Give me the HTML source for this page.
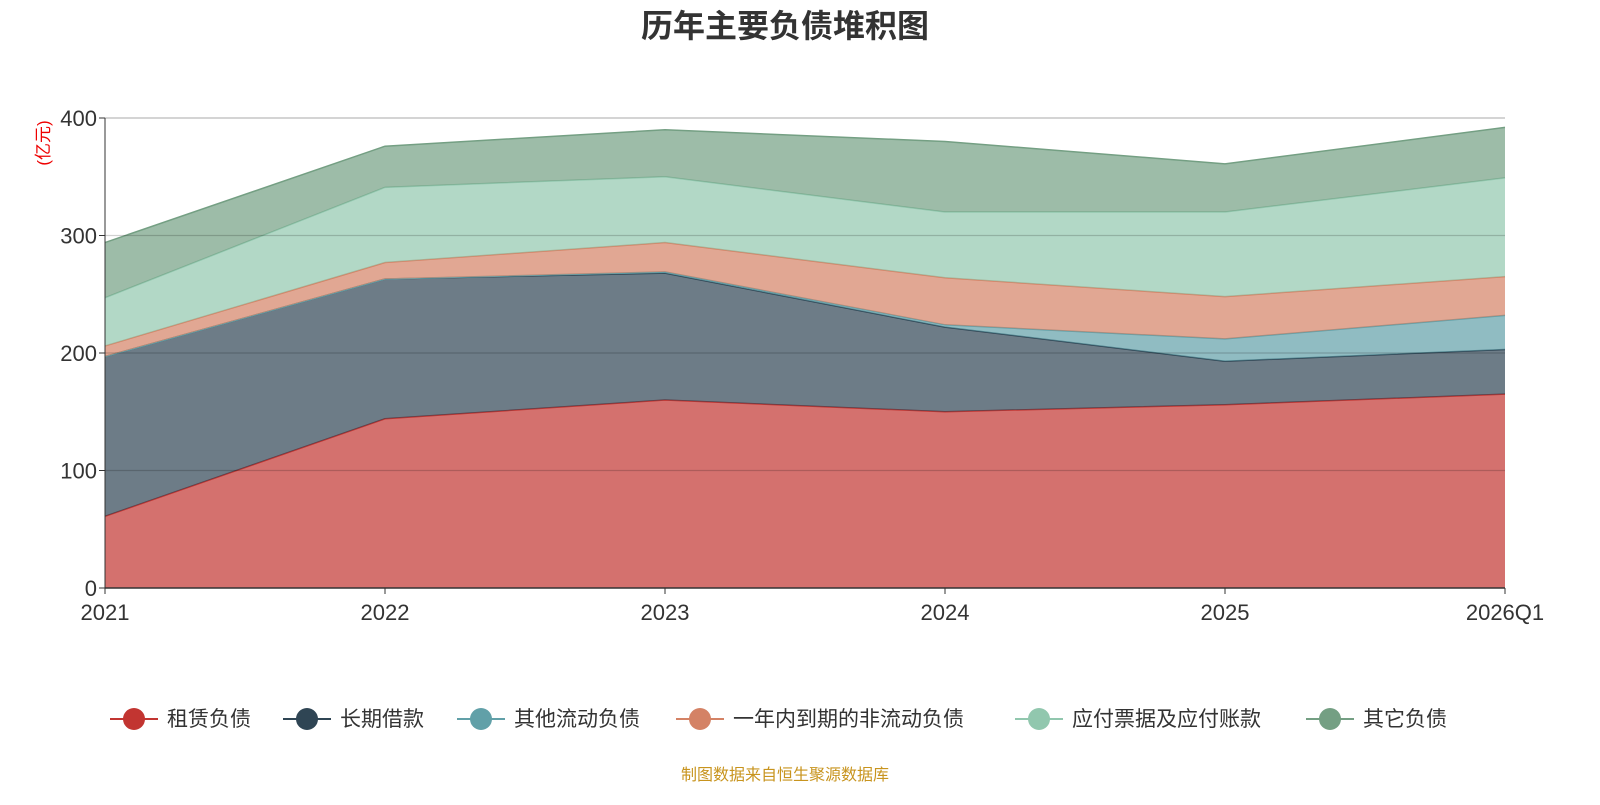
<!DOCTYPE html>
<html><head><meta charset="utf-8"><style>
body{margin:0;background:#fff;font-family:"Liberation Sans","Noto Sans CJK SC",sans-serif;}
</style></head><body>
<svg id="chart" width="1600" height="800" xmlns="http://www.w3.org/2000/svg" style="font-family:'Liberation Sans','Noto Sans CJK SC',sans-serif">
<text x="785" y="37" text-anchor="middle" font-size="32" font-weight="bold" fill="#333">历年主要负债堆积图</text>
<text transform="translate(49,143) rotate(-90)" text-anchor="middle" font-size="17" fill="#e00">(亿元)</text>
<g id="areas"></g><g id="grid"></g><g id="axes"></g><g id="legend"></g>
<text x="785" y="780" text-anchor="middle" font-size="16" fill="#c8941e">制图数据来自恒生聚源数据库</text>
</svg>
<script>
const categories=["2021","2022","2023","2024","2025","2026Q1"];
const seriesNames=["租赁负债","长期借款","其他流动负债","一年内到期的非流动负债","应付票据及应付账款","其它负债"];
const lease=[61,144,160,150,156,165];
const longLoan=[136,119,108,72,37,38];
const otherCurrent=[0,0,1,2,19,29];
const dueWithinYear=[9,14,25,40,36,33];
const payables=[41,64,56,56,72,84];
const otherLiab=[47,35,40,60,41,43];
const yTicks=[0,100,200,300,400];
const series=[lease,longLoan,otherCurrent,dueWithinYear,payables,otherLiab];
const colors=["#c23531","#2f4554","#61a0a8","#d48265","#91c7ae","#749f83"];
const ns="http://www.w3.org/2000/svg";
const X0=105,X1=1505,Y0=588,Y1=118,YMAX=400;
const xs=i=>X0+(X1-X0)*i/(categories.length-1);
const ys=v=>Y0-(Y0-Y1)*v/YMAX;
function mk(t,a,p){const e=document.createElementNS(ns,t);for(const k in a)e.setAttribute(k,a[k]);p.appendChild(e);return e;}
const areas=document.getElementById('areas');
let base=categories.map(()=>0);
series.forEach((s,si)=>{
  const top=base.map((b,i)=>b+s[i]);
  let d="M"+categories.map((c,i)=>xs(i)+","+ys(top[i])).join("L");
  for(let i=categories.length-1;i>=0;i--)d+="L"+xs(i)+","+ys(base[i]);
  const p=mk('path',{d:d+"Z",fill:colors[si],'fill-opacity':0.7,stroke:'none'},areas);
  
  
  const l=mk('polyline',{points:categories.map((c,i)=>xs(i)+","+ys(top[i])).join(" "),fill:'none',stroke:colors[si],'stroke-width':1.5},areas);
  
  
  base=top;
});
const grid=document.getElementById('grid'),axes=document.getElementById('axes');
yTicks.forEach(t=>{
  if(t>0){const g=mk('line',{x1:X0,x2:X1,y1:ys(t),y2:ys(t),stroke:t==YMAX?'#bbb':'rgba(0,0,0,0.18)','stroke-width':1.3},grid);
  
  }
  const tk=mk('line',{x1:X0-6,x2:X0,y1:ys(t),y2:ys(t),stroke:'#333'},axes);
  
  
  const tx=mk('text',{x:X0-8,y:ys(t)+8,'text-anchor':'end','font-size':22,fill:'#333'},axes);
  tx.textContent=t;
  
  
});
const ya=mk('line',{x1:X0,x2:X0,y1:Y1,y2:Y0,stroke:'#333'},axes);


const xa=mk('line',{x1:X0,x2:X1,y1:Y0,y2:Y0,stroke:'#333','stroke-width':1.5},axes);


categories.forEach((c,i)=>{
  const tk=mk('line',{x1:xs(i),x2:xs(i),y1:Y0,y2:Y0+6,stroke:'#333'},axes);
  
  
  const tx=mk('text',{x:xs(i),y:620,'text-anchor':'middle','font-size':22,fill:'#333'},axes);
  tx.textContent=c;
  
  
});
const legend=document.getElementById('legend');
const lx=[134,307,481,700,1039,1330];
seriesNames.forEach((n,i)=>{
  const g=mk('g',{},legend);
  
  
  mk('line',{x1:lx[i]-24,x2:lx[i]+24,y1:719,y2:719,stroke:colors[i],'stroke-width':2},g);
  mk('circle',{cx:lx[i],cy:719,r:11,fill:colors[i]},g);
  const t=mk('text',{x:lx[i]+33,y:726,'font-size':21,fill:'#333'},g);
  t.textContent=n;
});
</script>
</body></html>
